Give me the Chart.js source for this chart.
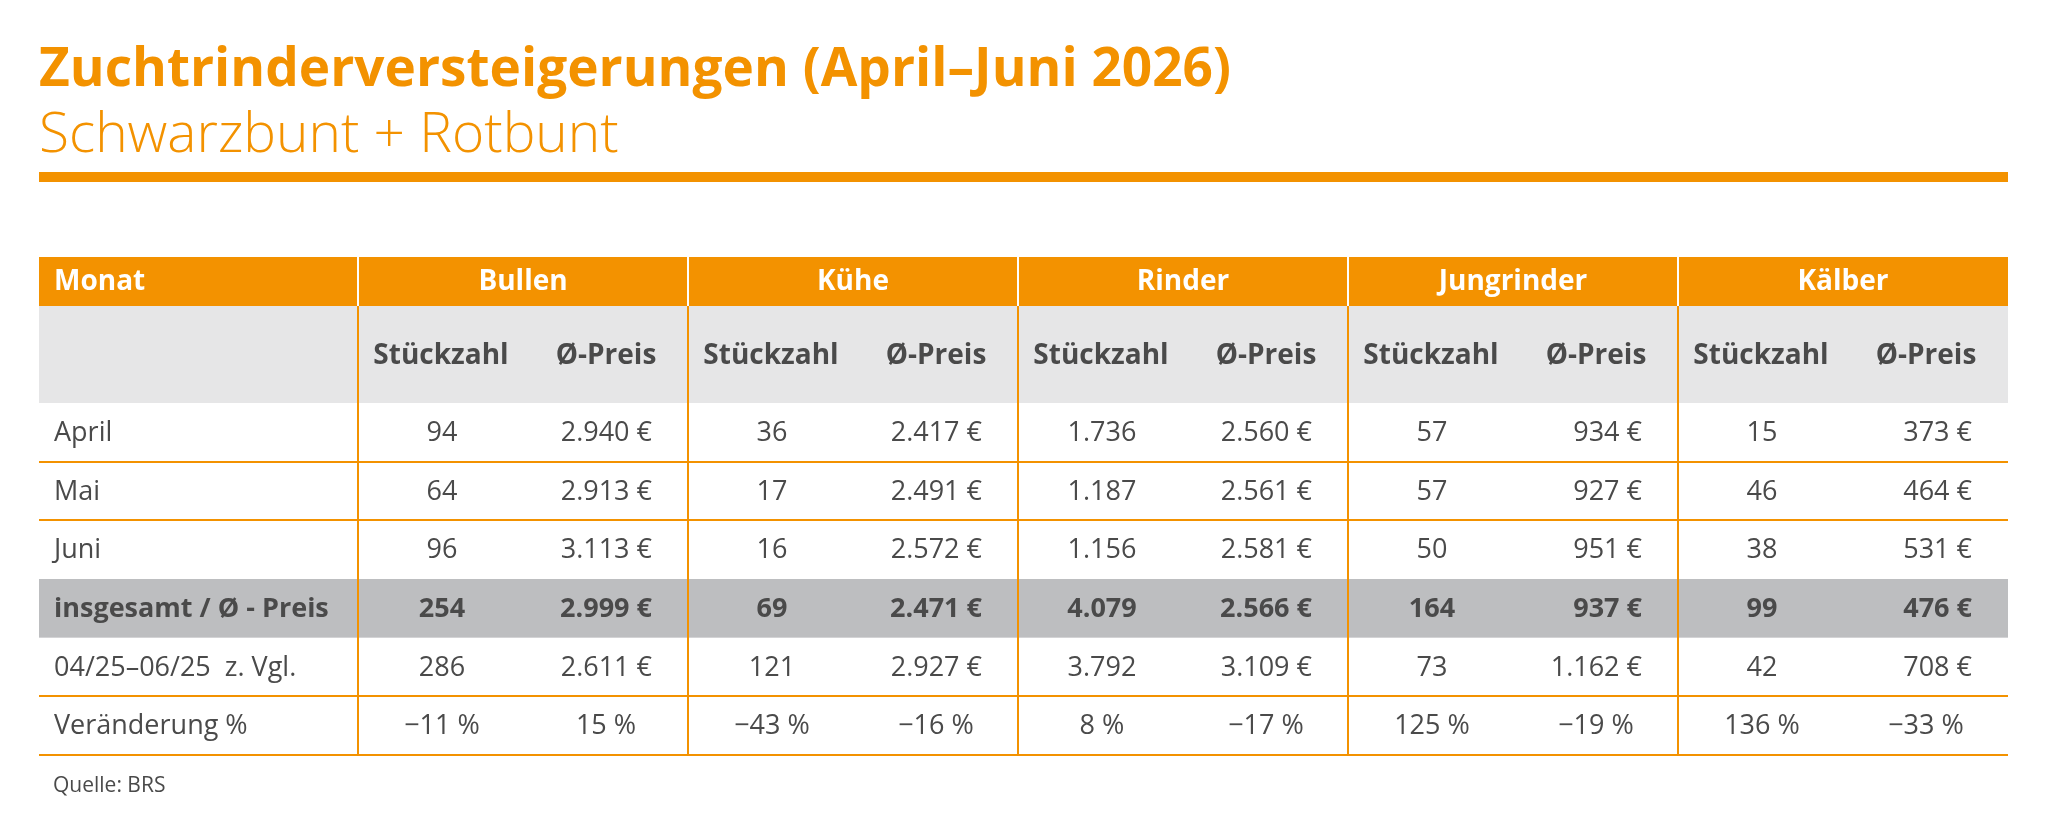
<!DOCTYPE html>
<html>
<head>
<meta charset="utf-8">
<script src="https://cdn.jsdelivr.net/npm/chart.js@4/dist/chart.umd.min.js"></script>
<style>
  html, body { margin: 0; padding: 0; background: #fff; }
  canvas { display: block; }
</style>
</head>
<body>
<canvas id="tabelle" width="2048" height="820"></canvas>
<script>
// Daten
const zeilen = ['April', 'Mai', 'Juni', 'insgesamt / Ø - Preis', '04/25–06/25  z. Vgl.', 'Veränderung %'];
const gruppen = ['Bullen', 'Kühe', 'Rinder', 'Jungrinder', 'Kälber'];
const spalten = ['Stückzahl', 'Ø-Preis'];

const bullenStueck = [94, 64, 96, 254, 286];
const bullenPreis = [2940, 2913, 3113, 2999, 2611];
const bullenVeraend = [-11, 15];

const kueheStueck = [36, 17, 16, 69, 121];
const kuehePreis = [2417, 2491, 2572, 2471, 2927];
const kueheVeraend = [-43, -16];

const rinderStueck = [1736, 1187, 1156, 4079, 3792];
const rinderPreis = [2560, 2561, 2581, 2566, 3109];
const rinderVeraend = [8, -17];

const jungrinderStueck = [57, 57, 50, 164, 73];
const jungrinderPreis = [934, 927, 951, 937, 1162];
const jungrinderVeraend = [125, -19];

const kaelberStueck = [15, 46, 38, 99, 42];
const kaelberPreis = [373, 464, 531, 476, 708];
const kaelberVeraend = [136, -33];

const stueckzahlen = [bullenStueck, kueheStueck, rinderStueck, jungrinderStueck, kaelberStueck];
const preise = [bullenPreis, kuehePreis, rinderPreis, jungrinderPreis, kaelberPreis];
const veraenderungen = [bullenVeraend, kueheVeraend, rinderVeraend, jungrinderVeraend, kaelberVeraend];

// Layout (in Tabellen-Einheiten: eine Gruppe = 1 breit, eine Datenzeile = 1 hoch)
const orange = '#f39200',
	textGrau = '#4a4a4a',
	hellGrau = '#e6e6e7',
	summenGrau = '#bdbec0';
const monatBreite = 319 / 330;
const kopfHoehe = 49 / 58.67,
	unterKopfHoehe = 97 / 58.67;
const yOben = -(kopfHoehe + unterKopfHoehe);
const xStueck = 84 / 330,
	xPreisRechts = 294 / 330,
	xPreisMitte = 248 / 330,
	xMonat = -monatBreite + 15 / 330;
const font = '"Open Sans", "Liberation Sans", sans-serif';

function tausender(n) {
	return String(Math.abs(n)).replace(/\B(?=(\d{3})+(?!\d))/g, '.');
}
function prozent(n) {
	return (n < 0 ? '\u2212' : '') + Math.abs(n) + ' %';
}

let datasets = [];
datasets.push({
	data   : zeilen.map((z, i) => ({ x : xMonat, y : i + 0.5 })),
	labels : zeilen,
	align  : 'left'
});
gruppen.forEach((g, gi) => {
	datasets.push({
		data   : stueckzahlen[gi].map((v, i) => ({ x : gi + xStueck, y : i + 0.5 })),
		labels : stueckzahlen[gi].map(v => tausender(v)),
		align  : 'center'
	});
	datasets.push({
		data   : preise[gi].map((v, i) => ({ x : gi + xPreisRechts, y : i + 0.5 })),
		labels : preise[gi].map(v => tausender(v) + ' €'),
		align  : 'right'
	});
	datasets.push({
		data   : [{ x : gi + xStueck, y : 5.5 }, { x : gi + xPreisMitte, y : 5.5 }],
		labels : veraenderungen[gi].map(v => prozent(v)),
		align  : 'center',
		ersteZeile : 5
	});
});

const tabellePlugin = {
	id : 'tabelle',
	beforeDatasetsDraw(chart) {
		const ctx = chart.ctx, x = chart.scales.x, y = chart.scales.y;
		const links = x.getPixelForValue(-monatBreite), rechts = x.getPixelForValue(5);
		const fill = (c, y0, y1) => {
			ctx.fillStyle = c;
			ctx.fillRect(links, y.getPixelForValue(y0), rechts - links, y.getPixelForValue(y1) - y.getPixelForValue(y0));
		};
		ctx.save();
		fill(orange, yOben, -unterKopfHoehe);
		fill(hellGrau, -unterKopfHoehe, 0);
		fill(summenGrau, 3, 4);

		// Linien
		ctx.lineWidth = 2;
		ctx.strokeStyle = orange;
		[1, 2, 5, 6].forEach(r => {
			const py = Math.round(y.getPixelForValue(r));
			ctx.beginPath();
			ctx.moveTo(links, py);
			ctx.lineTo(rechts, py);
			ctx.stroke();
		});
		for (let g = 0; g < 5; g++) {
			const px = Math.round(x.getPixelForValue(g));
			ctx.strokeStyle = orange;
			ctx.beginPath();
			ctx.moveTo(px, y.getPixelForValue(-unterKopfHoehe));
			ctx.lineTo(px, y.getPixelForValue(6));
			ctx.stroke();
			ctx.strokeStyle = '#ffffff';
			ctx.beginPath();
			ctx.moveTo(px, y.getPixelForValue(yOben));
			ctx.lineTo(px, y.getPixelForValue(-unterKopfHoehe));
			ctx.stroke();
		}

		// Kopfzeilen
		const kopfY = (y.getPixelForValue(yOben) + y.getPixelForValue(-unterKopfHoehe)) / 2 + 1;
		ctx.font = 'bold 28px ' + font;
		ctx.fillStyle = '#ffffff';
		ctx.textBaseline = 'middle';
		ctx.textAlign = 'left';
		ctx.fillText('Monat', x.getPixelForValue(xMonat), kopfY);
		ctx.textAlign = 'center';
		gruppen.forEach((g, gi) => ctx.fillText(g, x.getPixelForValue(gi + 0.5), kopfY));

		const unterY = (y.getPixelForValue(-unterKopfHoehe) + y.getPixelForValue(0)) / 2 + 2;
		ctx.fillStyle = textGrau;
		ctx.font = 'bold 28px ' + font;
		gruppen.forEach((g, gi) => {
			ctx.fillText(spalten[0], x.getPixelForValue(gi + 83 / 330), unterY);
			ctx.fillText(spalten[1], x.getPixelForValue(gi + xPreisMitte), unterY);
		});

		// Titel
		ctx.textAlign = 'left';
		ctx.textBaseline = 'alphabetic';
		ctx.fillStyle = orange;
		ctx.font = 'bold 54px ' + font;
		ctx.fillText('Zuchtrinderversteigerungen (April–Juni 2026)', 39, 86, 1192);
		ctx.font = '300 55px ' + font;
		ctx.fillText('Schwarzbunt + Rotbunt', 39, 152, 580);
		ctx.fillRect(39, 172, 2008 - 39, 10);

		ctx.fillStyle = textGrau;
		ctx.font = '21px ' + font;
		ctx.fillText('Quelle: BRS', 53, 792);
		ctx.restore();
	},
	afterDatasetsDraw(chart) {
		const ctx = chart.ctx;
		ctx.save();
		ctx.fillStyle = textGrau;
		ctx.textBaseline = 'middle';
		chart.data.datasets.forEach((ds, di) => {
			const meta = chart.getDatasetMeta(di);
			ctx.textAlign = ds.align;
			meta.data.forEach((pt, i) => {
				const zeile = ds.ersteZeile !== undefined ? ds.ersteZeile : i;
				ctx.font = (zeile === 3 ? 'bold ' : '') + '27px ' + font;
				ctx.fillText(ds.labels[i], pt.x, pt.y + 1);
			});
		});
		ctx.restore();
	}
};

let tabelle = new Chart(document.getElementById('tabelle').getContext('2d'), {
	type    : 'scatter',
	data    : { datasets : datasets },
	options : {
		responsive       : false,
		animation        : false,
		devicePixelRatio : 1,
		layout           : { padding : { left : 39, right : 40, top : 257, bottom : 65 } },
		elements         : { point : { radius : 0, hoverRadius : 0 } },
		scales           : {
			x : { type : 'linear', min : -monatBreite, max : 5, display : false },
			y : { type : 'linear', min : yOben, max : 6, reverse : true, display : false }
		},
		plugins          : { legend : { display : false }, tooltip : { enabled : false } },
		events           : []
	},
	plugins : [tabellePlugin]
});
</script>
</body>
</html>
